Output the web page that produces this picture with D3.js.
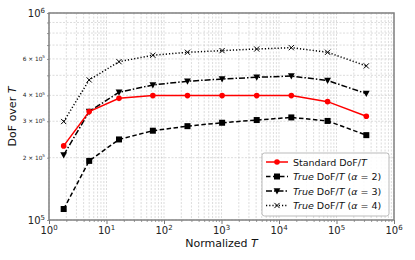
<!DOCTYPE html>
<html>
<head>
<meta charset="utf-8">
<script src="https://cdn.jsdelivr.net/npm/d3@7"></script>
<style>
  body { margin: 0; background: #fff; }
  svg { font-family: "DejaVu Sans", sans-serif; }
  .grid line { stroke: #c4c4c4; stroke-width: 0.6; stroke-dasharray: 2,1.5; }
</style>
</head>
<body>
<div id="chart"></div>
<script>
// normalized T values
var tValues = [1.8, 5, 16.5, 64, 256, 1024, 4096, 16384, 70000, 330000];
var standardDof = [228000, 334000, 387000, 399000, 399000, 399000, 399000, 399000, 373000, 317000];
var trueDof2 = [113000, 193000, 245000, 270000, 284000, 295000, 304000, 313000, 301000, 257000];
var trueDof3 = [206000, 334000, 414000, 449000, 468000, 480000, 489000, 496000, 472000, 408000];
var trueDof4 = [299000, 475000, 582000, 625000, 646000, 658000, 670000, 680000, 646000, 555000];
var xTickLabels = ["0", "1", "2", "3", "4", "5", "6"];
var yMinorLabels = [2, 3, 4, 6];

var margin = { top: 13, right: 21, bottom: 40, left: 49 };
var width = 415 - margin.left - margin.right;
var height = 260 - margin.top - margin.bottom;

var svg = d3.select("#chart").append("svg")
    .attr("width", 415)
    .attr("height", 260);
var g = svg.append("g")
    .attr("transform", "translate(" + margin.left + "," + margin.top + ")");

var x = d3.scaleLog().domain([1, 1e6]).range([0, width]);
var y = d3.scaleLog().domain([1e5, 1e6]).range([height, 0]);

// minor + major values for grid
var xGridVals = [];
for (var e = 0; e < 6; e++) {
    for (var m = 1; m < 10; m++) xGridVals.push(m * Math.pow(10, e));
}
xGridVals.push(1e6);
var yGridVals = [];
for (var m2 = 1; m2 <= 10; m2++) yGridVals.push(m2 * 1e5);

var grid = g.append("g").attr("class", "grid");
grid.selectAll(".gx").data(xGridVals).enter().append("line")
    .attr("x1", function (d) { return x(d); })
    .attr("x2", function (d) { return x(d); })
    .attr("y1", 0).attr("y2", height);
grid.selectAll(".gy").data(yGridVals).enter().append("line")
    .attr("y1", function (d) { return y(d); })
    .attr("y2", function (d) { return y(d); })
    .attr("x1", 0).attr("x2", width);

// x axis
var xAxis = g.append("g")
    .attr("transform", "translate(0," + height + ")")
    .call(d3.axisBottom(x).tickValues(xGridVals).tickFormat("").tickSize(2).tickSizeOuter(0));
xAxis.select(".domain").remove();
xAxis.selectAll(".tick line").attr("stroke", "#555").attr("stroke-width", 0.6);
xAxis.selectAll(".tick").filter(function (d) { return Math.abs(Math.log10(d) % 1) < 1e-9; })
    .select("line").attr("y2", 4).attr("stroke-width", 0.8);

xTickLabels.forEach(function (p) {
    var t = g.append("text")
        .attr("x", x(Math.pow(10, +p)))
        .attr("y", height + 14)
        .attr("text-anchor", "middle")
        .attr("font-size", 10)
        .attr("fill", "#222");
    t.append("tspan").text("10");
    t.append("tspan").attr("dy", -4).attr("font-size", 7).text(p);
});

// y axis
var yAxis = g.append("g")
    .call(d3.axisLeft(y).tickValues(yGridVals).tickFormat("").tickSize(2).tickSizeOuter(0));
yAxis.select(".domain").remove();
yAxis.selectAll(".tick line").attr("stroke", "#555").attr("stroke-width", 0.6);

[[1e5, "5"], [1e6, "6"]].forEach(function (d) {
    var t = g.append("text")
        .attr("x", -4)
        .attr("y", y(d[0]) + 3.5)
        .attr("text-anchor", "end")
        .attr("font-size", 10)
        .attr("fill", "#222");
    t.append("tspan").text("10");
    t.append("tspan").attr("dy", -4).attr("font-size", 7).text(d[1]);
});
yMinorLabels.forEach(function (m) {
    var t = g.append("text")
        .attr("x", -4)
        .attr("y", y(m * 1e5) + 2)
        .attr("text-anchor", "end")
        .attr("font-size", 5.8)
        .attr("fill", "#222");
    t.append("tspan").text(m + " \u00d7 10");
    t.append("tspan").attr("dy", -2.5).attr("font-size", 4.2).text("5");
});

// frame
g.append("rect")
    .attr("width", width).attr("height", height)
    .attr("fill", "none").attr("stroke", "#808080").attr("stroke-width", 1.5);

// axis titles
var xt = svg.append("text")
    .attr("x", margin.left + width / 2)
    .attr("y", 247)
    .attr("text-anchor", "middle")
    .attr("font-size", 11)
    .attr("fill", "#111");
xt.append("tspan").text("Normalized ");
xt.append("tspan").attr("font-style", "italic").text("T");

var yt = svg.append("text")
    .attr("transform", "translate(16," + (margin.top + height / 2) + ") rotate(-90)")
    .attr("text-anchor", "middle")
    .attr("font-size", 11)
    .attr("fill", "#111");
yt.append("tspan").text("DoF over ");
yt.append("tspan").attr("font-style", "italic").text("T");

// series
var series = [
    { values: standardDof, color: "#ff0000", dash: null, marker: "circle", label: "std" },
    { values: trueDof2, color: "#000", dash: "4.5,2.5", marker: "square", alpha: "2" },
    { values: trueDof3, color: "#000", dash: "6,2,1.5,2", marker: "tri", alpha: "3" },
    { values: trueDof4, color: "#000", dash: "1.2,2", marker: "x", alpha: "4" }
];

var line = d3.line()
    .x(function (d) { return x(d[0]); })
    .y(function (d) { return y(d[1]); });

function drawMarker(sel, type, color, cx, cy) {
    if (type === "circle") {
        sel.append("circle").attr("cx", cx).attr("cy", cy).attr("r", 2.8).attr("fill", color);
    } else if (type === "square") {
        sel.append("rect").attr("x", cx - 3).attr("y", cy - 3).attr("width", 6).attr("height", 6).attr("fill", color);
    } else if (type === "tri") {
        sel.append("path").attr("d", "M" + (cx - 3.4) + "," + (cy - 2.8) + "L" + (cx + 3.4) + "," + (cy - 2.8) + "L" + cx + "," + (cy + 3.4) + "Z").attr("fill", color);
    } else {
        sel.append("path").attr("d", "M" + (cx - 2.6) + "," + (cy - 2.6) + "L" + (cx + 2.6) + "," + (cy + 2.6) + "M" + (cx - 2.6) + "," + (cy + 2.6) + "L" + (cx + 2.6) + "," + (cy - 2.6))
            .attr("stroke", color).attr("stroke-width", 1);
    }
}

var plot = g.append("g");
series.slice().reverse().forEach(function (s) {
    var pts = tValues.map(function (t, i) { return [t, s.values[i]]; });
    plot.append("path")
        .datum(pts)
        .attr("d", line)
        .attr("fill", "none")
        .attr("stroke", s.color)
        .attr("stroke-width", 1.5)
        .attr("stroke-dasharray", s.dash);
    pts.forEach(function (p) {
        drawMarker(plot, s.marker, s.color, x(p[0]), y(p[1]));
    });
});

// legend
var lg = svg.append("g").attr("transform", "translate(262,153)");
lg.append("rect")
    .attr("width", 127).attr("height", 63).attr("rx", 2.5)
    .attr("fill", "#fff").attr("fill-opacity", 0.85)
    .attr("stroke", "#aaa").attr("stroke-width", 0.8);
series.forEach(function (s, i) {
    var ly = 9 + i * 14.5;
    lg.append("line")
        .attr("x1", 4).attr("x2", 26).attr("y1", ly).attr("y2", ly)
        .attr("stroke", s.color).attr("stroke-width", 1.5)
        .attr("stroke-dasharray", s.dash);
    drawMarker(lg, s.marker, s.color, 15, ly);
    var t = lg.append("text")
        .attr("x", 31).attr("y", ly + 3.5)
        .attr("font-size", 9.5).attr("fill", "#111");
    if (s.label === "std") {
        t.append("tspan").text("Standard DoF/");
        t.append("tspan").attr("font-style", "italic").text("T");
    } else {
        t.append("tspan").attr("font-style", "italic").text("True");
        t.append("tspan").text(" DoF/");
        t.append("tspan").attr("font-style", "italic").text("T");
        t.append("tspan").text(" (");
        t.append("tspan").attr("font-style", "italic").text("\u03b1");
        t.append("tspan").text(" = " + s.alpha + ")");
    }
});
</script>
</body>
</html>
